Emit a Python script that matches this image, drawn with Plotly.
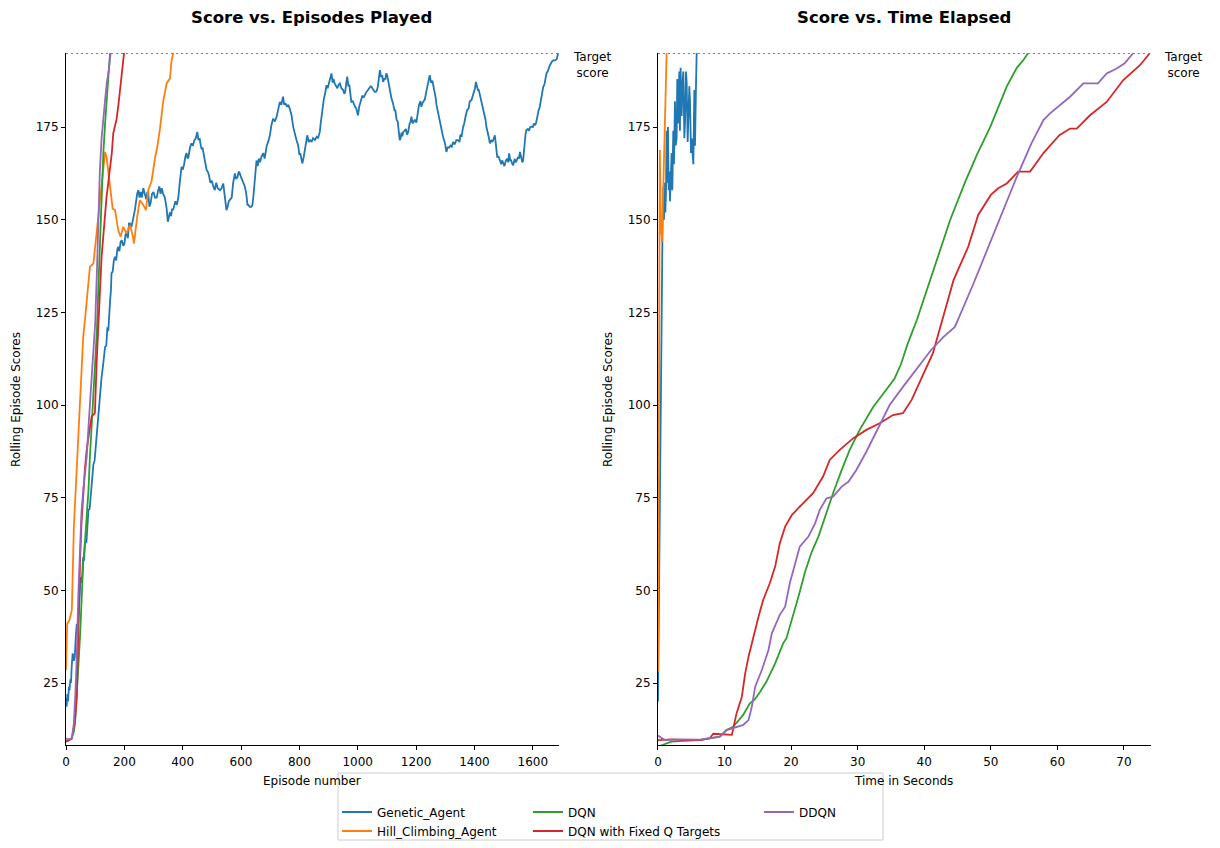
import plotly.graph_objects as go

TARGET_SCORE = 195

# ---- left panel: rolling score against episode number ----
genetic_ep = [0, 2, 5, 7, 10, 12, 15, 17, 20, 23, 27, 30, 34, 37, 41, 44, 47, 50, 54, 59, 62, 65,
              70, 74, 77, 81, 85, 90, 94, 98, 103, 107, 111, 116, 122, 126, 130, 134, 138, 142,
              145, 148, 151, 154, 156, 160, 164, 168, 172, 176, 179, 183, 187, 191, 196, 200, 204,
              208, 212, 216, 219, 224, 228, 232, 236, 240, 244, 248, 252, 256, 260, 265, 270, 275,
              279, 282, 286, 290, 295, 300, 305, 311, 316, 320, 324, 328, 333, 339, 345, 349, 351,
              356, 360, 364, 367, 371, 375, 380, 385, 390, 396, 400, 405, 409, 413, 417, 420, 425,
              430, 435, 440, 445, 450, 454, 458, 462, 465, 468, 472, 476, 482, 486, 490, 495, 500,
              505, 510, 515, 520, 528, 533, 539, 544, 550, 554, 558, 563, 568, 573, 579, 583, 588,
              592, 596, 600, 605, 609, 613, 618, 622, 625, 630, 635, 639, 642, 646, 649, 653, 657,
              661, 665, 670, 676, 681, 688, 693, 699, 704, 710, 716, 722, 727, 733, 738, 744, 748,
              752, 757, 762, 767, 773, 779, 785, 790, 796, 800, 803, 807, 810, 815, 819, 823, 827,
              832, 837, 842, 847, 853, 859, 864, 870, 873, 876, 880, 884, 888, 893, 897, 902, 906,
              910, 914, 917, 921, 926, 930, 935, 939, 944, 950, 954, 957, 961, 964, 968, 971, 974,
              978, 983, 987, 991, 995, 998, 1001, 1005, 1008, 1012, 1016, 1020, 1025, 1030, 1035,
              1040, 1044, 1047, 1051, 1055, 1058, 1062, 1066, 1069, 1073, 1076, 1080, 1084, 1087,
              1091, 1095, 1098, 1101, 1106, 1110, 1115, 1121, 1126, 1129, 1133, 1137, 1141, 1144,
              1147, 1150, 1153, 1156, 1160, 1165, 1169, 1173, 1178, 1181, 1184, 1188, 1192, 1196,
              1201, 1205, 1210, 1215, 1218, 1222, 1226, 1230, 1235, 1240, 1244, 1247, 1251, 1256,
              1260, 1263, 1267, 1270, 1275, 1281, 1287, 1290, 1293, 1298, 1301, 1304, 1308, 1313,
              1318, 1322, 1327, 1330, 1333, 1338, 1344, 1349, 1352, 1356, 1361, 1365, 1370, 1375,
              1380, 1384, 1390, 1394, 1398, 1402, 1405, 1409, 1412, 1415, 1418, 1423, 1427, 1430,
              1435, 1438, 1441, 1445, 1448, 1450, 1453, 1458, 1462, 1466, 1470, 1474, 1478, 1483,
              1488, 1492, 1495, 1498, 1503, 1508, 1512, 1516, 1519, 1523, 1526, 1530, 1533, 1538,
              1541, 1545, 1550, 1553, 1556, 1560, 1564, 1567, 1571, 1575, 1578, 1583, 1587, 1591,
              1595, 1600, 1604, 1607, 1611, 1615, 1620, 1624, 1628, 1632, 1636, 1640, 1643, 1647,
              1651, 1655, 1659, 1664, 1670, 1676, 1682, 1687]
genetic_score = [21, 18.6, 22, 20, 24, 23, 26, 25, 30, 33, 31, 32, 38, 41, 40, 45, 47, 53.6, 52, 59,
                 58, 62.8, 63, 68, 71.7, 72, 76, 80, 84, 85, 90, 93, 96.8, 103, 107.6, 110, 113,
                 115.7, 116, 121, 120, 126, 128, 131, 135.6, 136, 139, 140, 139, 142, 142.7, 141.5,
                 144, 144.5, 143, 143.5, 146, 146.4, 145, 149, 149, 148, 150, 151, 152.6, 155, 157,
                 158, 156, 157.5, 156, 158.5, 157, 155.5, 157.5, 157, 153.5, 154.5, 157, 157.5,
                 156, 156, 158, 159, 157, 158.5, 157, 156, 153, 149.5, 150, 152, 151, 153, 152.6,
                 154, 155, 154, 156, 160, 164.3, 163.5, 165, 167, 168, 166.5, 167, 169.5, 170.6,
                 170, 171.5, 172, 173.7, 171.5, 172, 170, 169, 169.5, 168, 166, 163.4, 163, 162,
                 160, 160.5, 159, 158, 160, 158.5, 158, 158.5, 159.8, 156, 152.6, 153.5, 155, 155.5,
                 156, 160, 162.5, 161, 161.5, 163, 162.5, 161.5, 160.5, 160, 159, 157, 154, 154,
                 153.5, 153.5, 154, 156, 159, 163, 166, 164.5, 166.5, 165.5, 167, 168, 166.5, 170,
                 171, 172.8, 175.5, 177.3, 176.5, 177.8, 179.5, 181.8, 181, 183.2, 181, 181.5,
                 180.5, 181, 180, 178.2, 175, 172.8, 171.5, 170, 167.5, 168, 166, 165.2, 167, 169.3,
                 171, 172.8, 171, 171.5, 171, 172, 171.5, 172.4, 172, 173.7, 176, 178.2, 180, 182.7,
                 184, 186.3, 185.5, 187, 188, 189.5, 187, 188, 186.8, 186, 185.5, 186.5, 186.8,
                 185.5, 185, 184, 184.5, 187, 188.6, 186, 186.5, 184.5, 181.8, 182, 181, 180.5, 180,
                 179, 178.2, 180.5, 181.5, 182.7, 183.5, 183, 184, 184.5, 185, 185.5, 186, 185.9,
                 185.5, 185, 184.5, 184.5, 185, 186, 189, 190.4, 188.5, 189, 187.2, 188, 188, 189.5,
                 189, 186.5, 185.4, 183, 181.4, 179.5, 179.5, 177, 176.5, 173, 171.5, 172, 173.5,
                 172.5, 173.7, 174, 174.5, 173, 173.7, 176, 176.5, 177.8, 176, 176.5, 177, 176.2,
                 178, 181, 182, 180.5, 181.5, 182, 182.5, 184.5, 187, 188, 189, 187, 187.5, 186,
                 185, 183, 181, 179, 176.4, 175, 173.5, 172.2, 171, 169, 168.3, 169.5, 169.5, 170,
                 169.7, 171, 170.5, 170.5, 171.5, 171.5, 171, 173, 172.4, 175, 176, 178, 179.6, 180,
                 182, 182.3, 183.5, 185, 185.5, 187.2, 186, 185, 185, 184, 182.5, 181, 179.6, 178,
                 177, 175.1, 174, 173, 172, 170.6, 171.5, 171, 172, 172.8, 170, 167, 167, 166, 165,
                 166, 165.2, 164.5, 166, 166.5, 165.5, 167.9, 166, 166, 165, 164.7, 166.5, 165.5,
                 166, 167, 166.5, 168.3, 167, 165.5, 166, 170, 173, 174.2, 174.5, 174, 175, 175.1,
                 175, 176, 175.5, 176, 178, 179.5, 180.5, 182.5, 183.5, 185.9, 186.5, 188, 189.5,
                 190, 191, 191.7, 192.5, 193, 193, 193.3, 195]

hill_ep = [0, 4, 12, 20, 27, 31, 36, 42, 48, 53, 59, 65, 73, 82, 94, 105, 112, 122, 130, 134, 139,
           145, 151, 160, 168, 175, 179, 187, 196, 208, 219, 228, 233, 244, 253, 265, 274, 282, 293,
           305, 313, 322, 333, 345, 356, 362, 368]
hill_score = [28.5, 41, 42, 44.7, 67.2, 73.5, 85, 95, 102.2, 110, 118.4, 123, 130, 137.3, 138.2,
              146.3, 152, 160.7, 166, 168.3, 167, 163, 158.9, 153, 152.6, 149, 147.2, 145.4, 148.1,
              146.3, 148.6, 146, 143.6, 150.8, 155.3, 154, 152.6, 158, 160.3, 166.6, 169.7, 174.5,
              181.8, 186.8, 188.1, 193, 195]

dqn_ep = [0, 10, 20, 27, 31, 37, 42, 48, 53, 59, 65, 71, 77, 82, 88, 94, 100, 106, 111, 116, 122,
          128, 134, 140, 146, 151]
dqn_score = [9.2, 9.5, 10.2, 12, 14.2, 21.3, 29, 37.5, 47, 57.3, 63, 69.8, 77, 86, 94, 102.2, 111,
             120.2, 131.9, 143, 156.2, 168, 176, 182, 188, 195]

fixedq_ep = [0, 10, 20, 27, 32, 37, 42, 48, 53, 59, 65, 71, 76, 82, 88, 99, 105, 111, 116, 122, 130,
             139, 145, 151, 157, 162, 168, 173, 179, 185, 191, 199]
fixedq_score = [9.2, 9.5, 10, 13.2, 16, 21.3, 39.3, 57.4, 68, 77, 83, 88, 91.5, 94, 96.9, 97.8,
                111.3, 120, 130, 140, 148, 156.2, 160, 163.4, 168, 173.3, 175.5, 177, 180.5, 185,
                190.4, 195]

ddqn_ep = [0, 10, 20, 27, 32, 37, 42, 48, 53, 59, 65, 71, 77, 82, 88, 94, 100, 106, 111, 116, 122,
           128, 134, 140, 146, 153]
ddqn_score = [10, 9.8, 10, 14.2, 22, 32, 48.3, 64.4, 71, 77, 81, 86, 94, 100, 106, 113, 122, 136,
              150, 163, 172, 178, 182.3, 187, 190, 195]

# ---- right panel: rolling score against wall-clock seconds ----
genetic_t = [0, 0.05, 0.15, 0.3, 0.45, 0.6, 0.7, 0.8, 0.9, 1.0, 1.1, 1.2, 1.3, 1.4, 1.5, 1.6, 1.7,
             1.8, 1.9, 2.05, 2.15, 2.3, 2.4, 2.55, 2.65, 2.8, 2.9, 3.05, 3.2, 3.3, 3.4, 3.56, 3.66,
             3.81, 3.96, 4.06, 4.21, 4.31, 4.46, 4.56, 4.71, 4.81, 4.96, 5.06, 5.21, 5.31, 5.46,
             5.56, 5.71, 5.81]
genetic_t_score = [20, 30, 53.7, 87, 112, 144, 151, 159, 150, 160, 152, 157, 174, 160, 175, 158, 163,
                   155, 162, 168, 158, 174, 165, 182, 170, 172, 188, 176, 190, 174, 191, 178, 186,
                   190, 172, 176, 190, 187, 171, 176, 186, 182, 168, 172, 166, 165, 185, 170, 186,
                   195]

hill_t = [0, 0.03, 0.08, 0.12, 0.2, 0.28, 0.35, 0.42, 0.5, 0.6, 0.7, 0.85, 1.0, 1.15, 1.3]
hill_t_score = [28, 45, 95, 138, 150, 168.8, 160, 146, 150, 144, 152, 160, 178, 190, 195]

dqn_t = [0, 1, 2, 4, 6.3, 9.3, 10.3, 11.3, 12.8, 13.8, 14.5, 15.3, 16.3, 17.6, 18.8, 19.3, 20.1,
         21.1, 22.1, 23.1, 24.1, 25.1, 26.3, 27.6, 28.8, 30.3, 32.3, 33.8, 35.5, 36.5, 37.5, 38.9,
         41.3, 43.9, 46.1, 47.9, 49.9, 51.1, 52.4, 53.9, 54.9, 55.6]
dqn_t_score = [7.8, 8.5, 9.2, 9.4, 9.6, 10.5, 12.3, 13.2, 16.4, 19.5, 20.5, 22.5, 25.4, 30.3, 35.7,
               37.1, 42, 48.3, 55, 60.4, 64.5, 69.9, 76.2, 82.5, 87.9, 93.3, 99.4, 103, 107,
               111, 116.5, 123, 136, 150, 160, 167.5, 175, 180.5, 186, 191, 193.1, 195]

fixedq_t = [0, 2, 4, 6.3, 7.8, 8.3, 11.1, 11.3, 11.8, 12.6, 13.1, 13.6, 14.3, 15.1, 15.8, 16.8, 17.6,
            18.3, 19.1, 20.1, 21.3, 23.3, 24.8, 25.8, 27.3, 29.3, 31.3, 33.3, 35.3, 36.8, 38.1, 41.3,
            44.4, 46.6, 48.1, 50.0, 51.1, 52.4, 54.1, 55.9, 57.9, 60.3, 61.9, 62.9, 64.9, 67.4,
            69.9, 72.4, 73.9]
fixedq_t_score = [9.6, 9.8, 9.6, 9.6, 10.1, 11.3, 11, 12.8, 16.8, 21.3, 27.6, 32.1, 37.5, 42.9, 47.4,
                  51.9, 56.4, 62.7, 67.2, 70.3, 72.6, 76.2, 80.7, 85.2, 87.9, 91, 93.3, 95.1, 97.3,
                  97.8, 101.4, 114, 133.7, 142.7, 151.3, 156.7, 158.5, 159.8, 163, 163, 168, 172.8,
                  174.6, 174.6, 178.2, 181.8, 187.7, 191.7, 195]

ddqn_t = [0, 1, 3, 6.3, 9.3, 10.3, 11.3, 12.8, 13.6, 14.1, 14.6, 15.6, 16.6, 17.1, 18.3, 19.1, 19.8,
          20.6, 21.3, 22.6, 23.6, 24.3, 25.3, 26.3, 27.6, 28.6, 29.8, 31.3, 32.8, 34.8, 36.8, 37.9,
          41.0, 42.9, 44.6, 47.4, 50.4, 53.9, 56.1, 57.9, 58.9, 60.9, 61.9, 63.9, 66.1, 67.4, 68.9,
          70.1, 71.4]
ddqn_t_score = [10.8, 9.6, 9.8, 9.7, 10.5, 12.3, 12.8, 13.7, 15, 18.6, 24, 28.5, 33.9, 38.4, 43.4,
                45.6, 51.9, 57.3, 61.8, 64.5, 68.1, 71.7, 74.8, 75.3, 78, 79.3, 82.5, 87.4, 92.8,
                100, 104.9, 107.5, 114.8, 118.4, 121.1, 132.8, 146.3, 161.6, 170.6, 176.9, 178.7,
                181.8, 183.2, 186.8, 186.8, 189.5, 190.8, 192.2, 195]

# name, colour, legend column, left data, right data
agents = [
    ("Genetic_Agent", "#1f77b4", "legend", (genetic_ep, genetic_score), (genetic_t, genetic_t_score)),
    ("Hill_Climbing_Agent", "#ff7f0e", "legend", (hill_ep, hill_score), (hill_t, hill_t_score)),
    ("DQN", "#2ca02c", "legend2", (dqn_ep, dqn_score), (dqn_t, dqn_t_score)),
    ("DQN with Fixed Q Targets", "#d62728", "legend2", (fixedq_ep, fixedq_score), (fixedq_t, fixedq_t_score)),
    ("DDQN", "#9467bd", "legend3", (ddqn_ep, ddqn_score), (ddqn_t, ddqn_t_score)),
]

fig = go.Figure()
for name, color, leg, (ex, ey), (tx, ty) in agents:
    fig.add_trace(go.Scatter(x=ex, y=ey, mode="lines", name=name, legend=leg,
                             line=dict(color=color, width=1.8), xaxis="x", yaxis="y",
                             legendgroup=name))
    fig.add_trace(go.Scatter(x=tx, y=ty, mode="lines", name=name, legend=leg, showlegend=False,
                             line=dict(color=color, width=1.8), xaxis="x2", yaxis="y2",
                             legendgroup=name))

axis_style = dict(showline=True, linecolor="black", linewidth=1, ticks="outside", ticklen=4,
                  tickcolor="black", showgrid=False, zeroline=False, automargin=False,
                  tickfont=dict(size=12))
y_range = [8.27, TARGET_SCORE]

# the page body adds an 8px offset, so the figure is 8px smaller and margins shifted
fig.update_layout(
    width=1212, height=840,
    margin=dict(l=58, r=69, t=45, b=103, autoexpand=False),
    plot_bgcolor="white", paper_bgcolor="white",
    font=dict(family="DejaVu Sans", size=12, color="black"),
    xaxis=dict(domain=[0, 0.4544], range=[0, 1690], tick0=0, dtick=200, ticklabelstandoff=2,
               **axis_style),
    yaxis=dict(domain=[0, 1], range=y_range, tick0=0, dtick=25, **axis_style),
    xaxis2=dict(domain=[0.5456, 1], range=[0, 74.06], tick0=0, dtick=10, anchor="y2",
                ticklabelstandoff=2, **axis_style),
    yaxis2=dict(domain=[0, 1], range=y_range, tick0=0, dtick=25, anchor="x2", **axis_style),
    showlegend=True,
)

legend_style = dict(orientation="v", xref="container", yref="container", yanchor="top",
                    y=0.0601, xanchor="left", bgcolor="rgba(0,0,0,0)", borderwidth=0,
                    font=dict(size=12), tracegroupgap=0)
fig.update_layout(
    legend=dict(x=0.2715, **legend_style),
    legend2=dict(x=0.4290, **legend_style),
    legend3=dict(x=0.6196, **legend_style),
)

# legend frame
fig.add_shape(type="rect", xref="paper", yref="paper", x0=0.2507, x1=0.753,
              y0=-0.1373, y1=-0.0405, line=dict(color="#cccccc", width=1))

# target score reference lines
for xd, yr in (("x domain", "y"), ("x2 domain", "y2")):
    fig.add_shape(type="line", xref=xd, yref=yr, x0=0, x1=1, y0=TARGET_SCORE, y1=TARGET_SCORE,
                  line=dict(color="grey", width=2, dash="2px,3px"))

for xp, title in ((0.2267, "Score vs. Episodes Played"), (0.7723, "Score vs. Time Elapsed")):
    fig.add_annotation(text="<b>%s</b>" % title, xref="paper", yref="paper", x=xp, y=1.0506,
                       xanchor="center", yanchor="middle", showarrow=False, font=dict(size=16.5))

# axis titles
for xp, label in ((0.2267, "Episode number"), (0.7723, "Time in Seconds")):
    fig.add_annotation(text=label, xref="paper", yref="paper", x=xp, y=-0.052,
                       xanchor="center", yanchor="middle", showarrow=False)
for xp in (-0.0461, 0.4995):
    fig.add_annotation(text="Rolling Episode Scores", xref="paper", yref="paper", x=xp, y=0.5,
                       xanchor="center", yanchor="middle", textangle=-90, showarrow=False)

for xp in (0.4848, 1.0295):
    fig.add_annotation(text="Target<br>score", xref="paper", yref="paper", x=xp, y=0.9827,
                       xanchor="center", yanchor="middle", showarrow=False, align="center",
                       font=dict(size=12))

fig.write_html("out.html")
